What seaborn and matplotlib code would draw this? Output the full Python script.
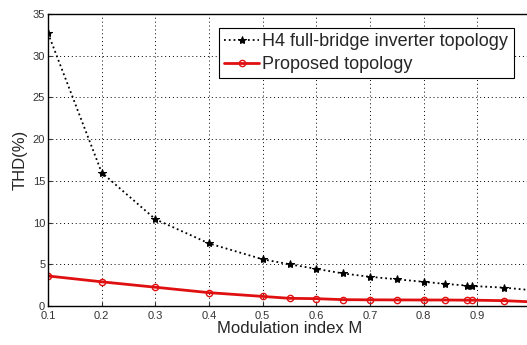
import matplotlib
matplotlib.use("Agg")
import matplotlib.pyplot as plt
import seaborn as sns
import pandas as pd

m_h4 = [0.1, 0.2, 0.3, 0.4, 0.5, 0.55, 0.6, 0.65, 0.7, 0.75, 0.8, 0.84, 0.88, 0.89, 0.95, 1.0]
thd_h4 = [32.7, 16.0, 10.4, 7.5, 5.6, 5.0, 4.45, 3.9, 3.5, 3.2, 2.9, 2.65, 2.45, 2.4, 2.2, 1.9]
m_prop = [0.1, 0.2, 0.3, 0.4, 0.5, 0.55, 0.6, 0.65, 0.7, 0.75, 0.8, 0.84, 0.88, 0.89, 0.95, 1.0]
thd_prop = [3.6, 2.9, 2.25, 1.6, 1.15, 0.92, 0.88, 0.76, 0.74, 0.73, 0.72, 0.72, 0.7, 0.7, 0.64, 0.5]
x_ticks = [0.1, 0.2, 0.3, 0.4, 0.5, 0.6, 0.7, 0.8, 0.9, 1.0]
x_labels = ["0.1", "0.2", "0.3", "0.4", "0.5", "0.6", "0.7", "0.8", "0.9", ""]
y_ticks = [0, 5, 10, 15, 20, 25, 30, 35]

sns.set_style("white")
plt.rcParams['font.family'] = ['Liberation Sans', 'DejaVu Sans']

fig = plt.figure(figsize=(5.27, 3.45), dpi=100)
W, H = 527, 345
ax = fig.add_axes([48 / W, 1 - 306 / H, (531 - 48) / W, (306 - 14) / H])

df1 = pd.DataFrame({"M": m_h4, "THD": thd_h4})
df2 = pd.DataFrame({"M": m_prop, "THD": thd_prop})

sns.lineplot(data=df1, x="M", y="THD", ax=ax, color="black", linestyle=":",
             linewidth=1.3, marker="*", markersize=6, markerfacecolor="black",
             markeredgecolor="black", label="H4 full-bridge inverter topology")
sns.lineplot(data=df2, x="M", y="THD", ax=ax, color="#e01010", linestyle="-",
             linewidth=2.0, marker="o", markersize=4.5, markerfacecolor="none",
             markeredgecolor="#e01010", markeredgewidth=1.0,
             label="Proposed topology")

ax.set_xlim(0.1, 1.0)
ax.set_ylim(0, 35)
ax.set_xticks(x_ticks)
ax.set_xticklabels(x_labels)
ax.set_yticks(y_ticks)
ax.grid(True, color="black", linestyle=(0, (1, 3)), linewidth=0.7)
ax.tick_params(axis="both", labelsize=8, colors="#333333", length=3, direction="in")
ax.tick_params(axis="x", bottom=True, pad=3.5)
ax.tick_params(axis="y", left=True, pad=2)
for s in ax.spines.values():
    s.set_color("black")
    s.set_linewidth(1.0)
ax.set_xlabel("Modulation index M", fontsize=12, labelpad=0)
ax.set_ylabel("THD(%)", fontsize=12, labelpad=4)

leg = ax.legend(loc="upper left", bbox_to_anchor=((219 - 48) / (531 - 48), 1 - (28 - 14) / 292),
                fontsize=13, frameon=True, fancybox=False, edgecolor="black",
                framealpha=1, handlelength=1.9, handletextpad=0.2, borderpad=0.3,
                labelspacing=0.3, borderaxespad=0)
leg.get_frame().set_linewidth(0.8)

fig.savefig("out.png", dpi=100)
